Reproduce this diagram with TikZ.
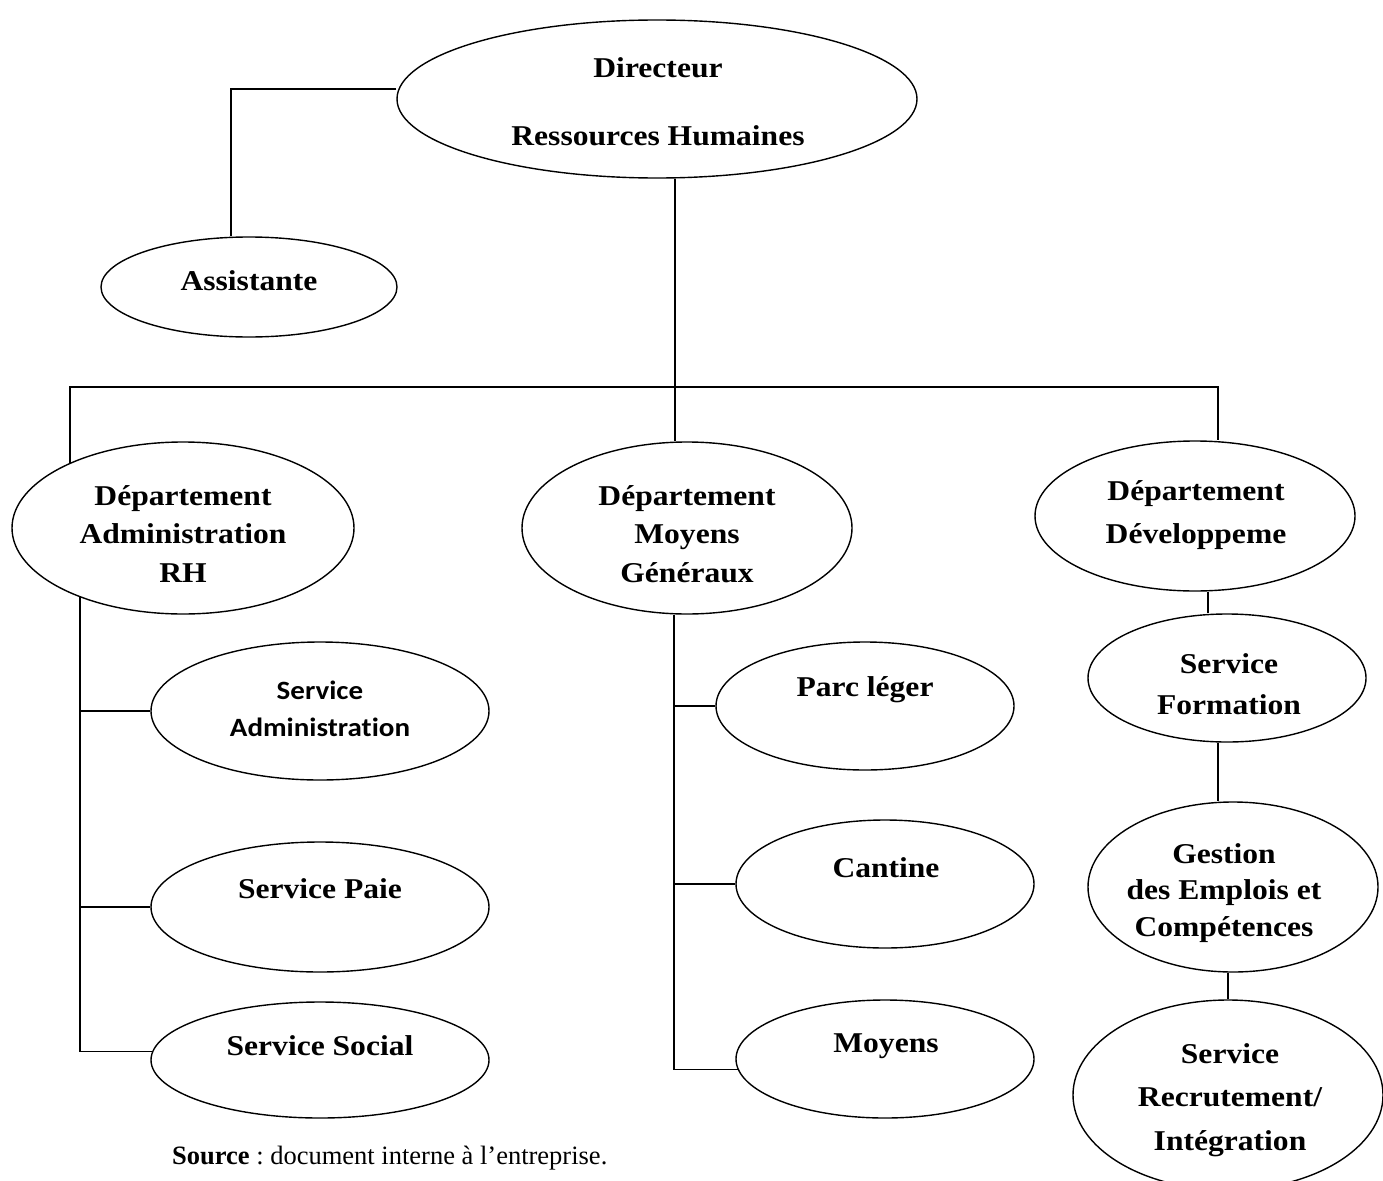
\documentclass[tikz,border=0pt]{standalone}
\usepackage{fontspec}
\setmainfont{Liberation Serif}
\newfontfamily\tnrx{Liberation Serif}[FakeStretch=1.1]
\newfontfamily\carx{Carlito}[FakeStretch=1.1,Ligatures=NoCommon]
\usetikzlibrary{shapes.geometric}
\frenchspacing
\begin{document}
\begin{tikzpicture}[x=1pt,y=-1pt,
  box/.style={draw, ellipse, inner sep=0pt, line width=1.4pt},
  ln/.style={line width=1.4pt},
  lbl/.style={align=center, inner sep=0pt, font={\tnrx\bfseries\fontsize{28.7}{38.5}\selectfont}},
  cbl/.style={align=center, inner sep=0pt, font={\carx\bfseries\fontsize{26.4}{37}\selectfont}},
]
\useasboundingbox (0,0) rectangle (1383,1180);

% ellipses
\node[box, minimum width=520pt, minimum height=158pt] (dir) at (657,99) {};
\node[box, minimum width=296pt, minimum height=100pt] (asst) at (249,287) {};
\node[box, minimum width=342pt, minimum height=172pt] (adm) at (183,528) {};
\node[box, minimum width=330pt, minimum height=172pt] (moy) at (687,528) {};
\node[box, minimum width=320pt, minimum height=150pt] (dev) at (1195,516) {};
\node[box, minimum width=338pt, minimum height=138pt] (sadm) at (320,711) {};
\node[box, minimum width=338pt, minimum height=130pt] (paie) at (320,907) {};
\node[box, minimum width=338pt, minimum height=116pt] (soc) at (320,1060) {};
\node[box, minimum width=298pt, minimum height=128pt] (parc) at (865,706) {};
\node[box, minimum width=298pt, minimum height=128pt] (cant) at (885,884) {};
\node[box, minimum width=298pt, minimum height=118pt] (moyn) at (885,1059) {};
\node[box, minimum width=278pt, minimum height=128pt] (form) at (1227,678) {};
\node[box, minimum width=290pt, minimum height=170pt] (gest) at (1233,887) {};
\node[box, minimum width=310pt, minimum height=190pt] (rec) at (1228,1095) {};

% texts
\node[lbl, font={\tnrx\bfseries\fontsize{28.7}{68}\selectfont}] (dirT) at (658,102) {Directeur\\Ressources Humaines};
\node[lbl] (asstT) at (249,281) {Assistante};
\node[lbl] (admT) at (183,534) {Département\\Administration\\RH};
\node[lbl] (moyT) at (687,534) {Département\\Moyens\\Généraux};
\node[lbl, font={\tnrx\bfseries\fontsize{28.7}{43}\selectfont}] (devT) at (1196,515) {Département\\Développeme};
\node[cbl] (sadmT) at (320,709) {Service\\Administration};
\node[lbl] (paieT) at (320,889) {Service Paie};
\node[lbl] (socT) at (320,1046) {Service Social};
\node[lbl] (parcT) at (865,690) {Parc léger};
\node[lbl] (cantT) at (886,868) {Cantine};
\node[lbl] (moynT) at (886,1046) {Moyens};
\node[lbl, font={\tnrx\bfseries\fontsize{28.7}{41}\selectfont}] (formT) at (1229,684) {Service\\Formation};
\node[lbl, font={\tnrx\bfseries\fontsize{28.7}{36.5}\selectfont}] (gestT) at (1224,893) {Gestion\\des Emplois et\\Compétences};
\node[lbl, font={\tnrx\bfseries\fontsize{28.7}{43.5}\selectfont}] (recT) at (1230,1100) {Service\\Recrutement/\\Intégration};
\node[anchor=west, inner sep=0pt, font={\fontsize{26.5}{30}\selectfont}] (src) at (172,1158) {\textbf{Source} : document interne à l’entreprise.};

% connectors
\coordinate (busL) at (70,387);
\coordinate (busR) at (1218,387);
\draw[ln] ([yshift=10pt]dir.west) -| ([xshift=-18pt]asst.north);
\draw[ln] ([xshift=18pt]dir.south) -- ([xshift=18pt]dir.south |- busL);
\draw[ln] (adm.150.3) |- (busR) -- ([xshift=23pt]dev.north);
\draw[ln] ([xshift=-12pt]moy.north) -- ([xshift=-12pt]moy.north |- busL);

\draw[ln] (adm.214) |- (sadm.west);
\draw[ln] (adm.214) |- (paie.west);
\draw[ln] (adm.214) |- (soc.177.3);

\draw[ln] ([xshift=-13pt]moy.south) |- (parc.west);
\draw[ln] ([xshift=-13pt]moy.south) |- (cant.west);
\draw[ln] ([xshift=-13pt]moy.south) |- (moyn.184.3);

\draw[ln] ([xshift=13pt]dev.south) -- ([xshift=13pt]dev.south |- form.north);
\draw[ln] ([xshift=-9pt]form.south) -- ([xshift=-9pt]form.south |- gest.north);
\draw[ln] ([xshift=-5pt]gest.south) -- ([xshift=-5pt]gest.south |- rec.north);
\end{tikzpicture}
\end{document}
